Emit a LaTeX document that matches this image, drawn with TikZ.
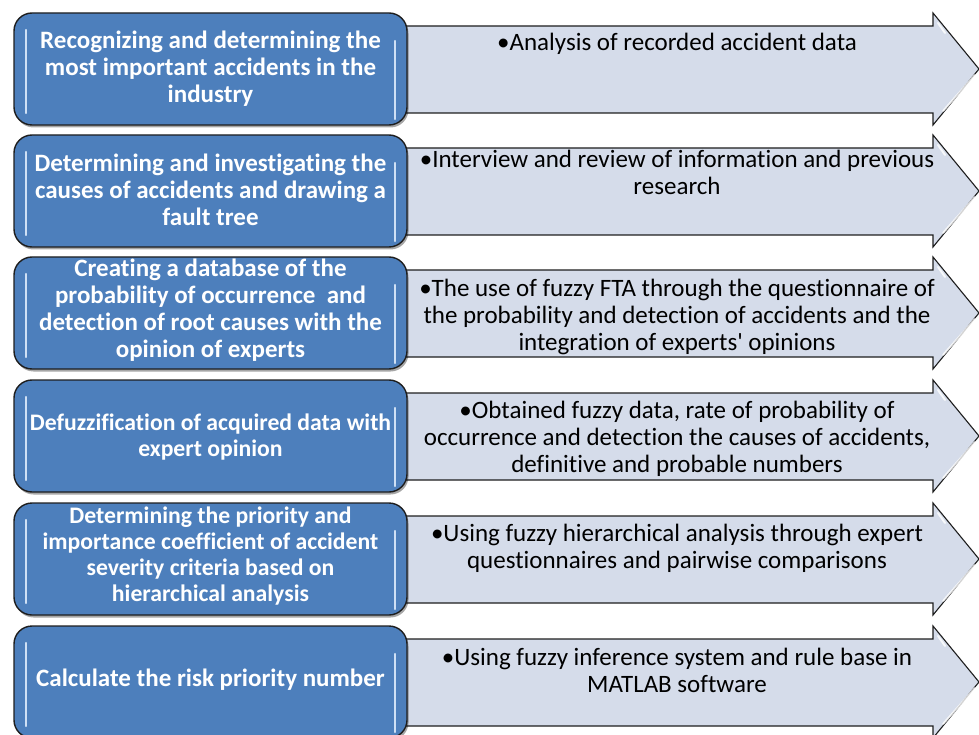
\documentclass[tikz,border=0pt]{standalone}
\usepackage{fontspec}
\setmainfont{Carlito}[Ligatures=NoCommon]
\usetikzlibrary{shadows}
\definecolor{boxblue}{HTML}{4D7FBC}
\definecolor{arrowfill}{HTML}{D5DCEA}
\definecolor{hilite}{HTML}{CFE0F5}
\definecolor{edge}{HTML}{1E1E1E}
\tikzset{
  stepbox/.style={draw=edge, line width=1.4pt, fill=boxblue, rounded corners=18pt,
    minimum width=393pt, minimum height=112pt, inner sep=0pt,
    drop shadow={shadow xshift=1.5pt, shadow yshift=-2.5pt, opacity=0.35, fill=black}},
  boxtext/.style={text width=386pt, align=flush center, inner sep=0pt,
    text=white, font=\fontsize{25}{27}\selectfont\bfseries},
  smalltext/.style={font=\fontsize{23.7}{26}\selectfont\bfseries},
  arrowshape/.style={draw=edge, line width=1.1pt, fill=arrowfill},
  arrowtext/.style={anchor=north, text width=560pt, align=flush center, inner sep=0pt,
    font=\fontsize{25}{27}\selectfont, text=black},
  glint/.style={hilite, line width=2.2pt, line cap=round},
  headglint/.style={white, line width=2pt, line cap=round, opacity=0.8}
}
\newcommand{\rowarrow}[1]{%
  \path[arrowshape] (395,#1+13) -- (933,#1+13) -- (933,#1) -- (979,#1+56)
     -- (933,#1+112) -- (933,#1+100) -- (395,#1+100) -- cycle;
  \draw[headglint] (975,#1+62) -- (943,#1+98);
  \draw[headglint] (938,#1+10) -- (945,#1+20);
}
\newcommand{\boxglint}[1]{%
  \draw[glint] (26,#1+17) -- (26,#1+100);
  \draw[glint] (395,#1+28) -- (395,#1+106);
}
\begin{document}
\begin{tikzpicture}[x=1pt,y=-1pt]
\useasboundingbox (0,0) rectangle (979,735);
% arrows
\rowarrow{13}
\rowarrow{135}
\rowarrow{257}
\rowarrow{380}
\rowarrow{503}
\rowarrow{626}
% boxes
\node[stepbox] (b1) at (210.5,69) {};
\node[stepbox] (b2) at (210.5,191) {};
\node[stepbox] (b3) at (210.5,313) {};
\node[stepbox] (b4) at (210.5,436) {};
\node[stepbox] (b5) at (210.5,559) {};
\node[stepbox] (b6) at (210.5,682) {};
\boxglint{13}
\boxglint{135}
\boxglint{257}
\boxglint{380}
\boxglint{503}
\boxglint{626}
% box texts
\node[boxtext] (l1) at (210.5,69) {Recognizing and determining the\\ most important accidents in the\\ industry};
\node[boxtext] (l2) at (210.5,190) {Determining and investigating the\\ causes of accidents and drawing a\\ fault tree};
\node[boxtext] (l3) at (210.5,310) {Creating a database of the\\ probability of occurrence\ \ and\\ detection of root causes with the\\ opinion of experts};
\node[boxtext, smalltext] (l4) at (210.5,437.5) {Defuzzification of acquired data with\\ expert opinion};
\node[boxtext, smalltext] (l5) at (210.5,556.5) {Determining the priority and\\ importance coefficient of accident\\ severity criteria based on\\ hierarchical analysis};
\node[boxtext] (l6) at (210.5,680) {Calculate the risk priority number};
% arrow texts
\node[arrowtext] (t1) at (677,33) {•Analysis of recorded accident data};
\node[arrowtext] (t2) at (677,149.5) {•Interview and review of information and previous\\ research};
\node[arrowtext] (t3) at (677,278.5) {•The use of fuzzy FTA through the questionnaire of\\ the probability and detection of accidents and the\\ integration of experts\textquotesingle\ opinions};
\node[arrowtext] (t4) at (677,400.5) {•Obtained fuzzy data, rate of probability of\\ occurrence and detection the causes of accidents,\\ definitive and probable numbers};
\node[arrowtext] (t5) at (677,523.5) {•Using fuzzy hierarchical analysis through expert\\ questionnaires and pairwise comparisons};
\node[arrowtext] (t6) at (677,647.5) {•Using fuzzy inference system and rule base in\\ MATLAB software};
\end{tikzpicture}
\end{document}
